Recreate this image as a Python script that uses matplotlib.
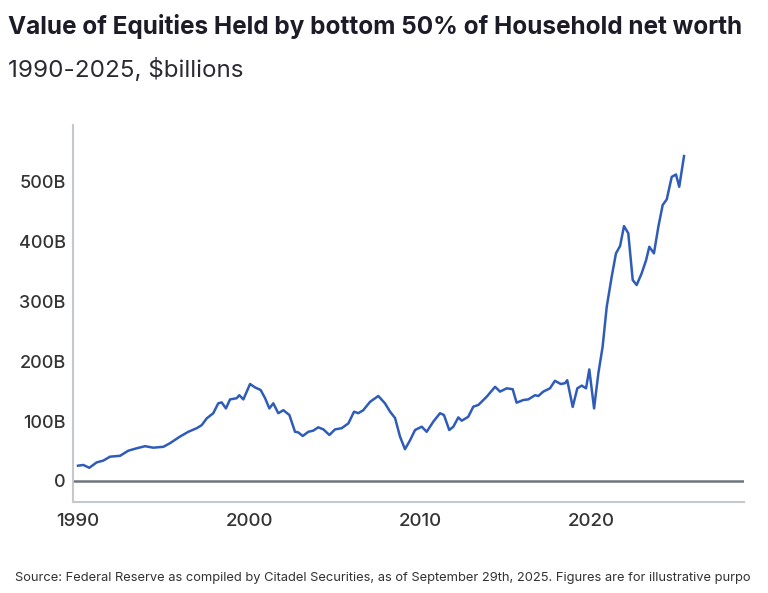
import matplotlib
matplotlib.use("Agg")
import matplotlib.pyplot as plt
from matplotlib.ticker import FuncFormatter

plt.rcParams['font.family'] = ['Inter', 'DejaVu Sans']

years = [1990.0, 1990.31, 1990.66, 1991.09, 1991.48, 1991.87, 1992.46, 1992.94, 1993.43, 1993.92,
         1994.40, 1994.99, 1995.38, 1995.96, 1996.45, 1996.94, 1997.23, 1997.53, 1997.91, 1998.20,
         1998.40, 1998.65, 1998.89, 1999.28, 1999.43, 1999.67, 2000.06, 2000.35, 2000.68, 2000.94,
         2001.19, 2001.42, 2001.71, 2002.01, 2002.36, 2002.69, 2002.88, 2003.14, 2003.47, 2003.76,
         2004.05, 2004.35, 2004.70, 2005.03, 2005.42, 2005.81, 2006.14, 2006.39, 2006.68, 2007.08,
         2007.56, 2007.95, 2008.25, 2008.54, 2008.83, 2009.12, 2009.42, 2009.71, 2010.10, 2010.39,
         2010.78, 2011.17, 2011.40, 2011.71, 2011.95, 2012.24, 2012.44, 2012.82, 2013.12, 2013.41,
         2013.90, 2014.39, 2014.68, 2015.07, 2015.42, 2015.65, 2016.04, 2016.33, 2016.73, 2016.92,
         2017.21, 2017.60, 2017.89, 2018.23, 2018.48, 2018.61, 2018.93, 2019.20, 2019.46, 2019.71,
         2019.90, 2020.18, 2020.43, 2020.68, 2020.92, 2021.21, 2021.46, 2021.70, 2021.93, 2022.18,
         2022.44, 2022.67, 2022.96, 2023.22, 2023.41, 2023.68, 2023.94, 2024.19, 2024.43, 2024.72,
         2024.97, 2025.16, 2025.44]
values = [25.5, 26.7, 22, 31, 34, 40.5, 42, 50.5, 54.5, 58,
          55.5, 57, 63, 74, 82, 88, 93, 104.5, 113, 129.5,
          131, 121, 136, 138, 143, 136, 161.7, 156, 151.7, 138,
          121, 129.5, 113, 118, 110, 82, 81, 75, 82, 84,
          89.5, 86, 76.7, 86, 88, 96, 115.5, 113, 118, 132,
          141.7, 129.5, 115.5, 105, 74, 53, 68, 85, 90.5, 82,
          99, 113, 110, 85, 90.5, 106, 100.5, 107, 124, 126.7,
          140.5, 157, 149, 154.5, 153, 130.5, 135, 136, 143, 141.7,
          149, 154.5, 167, 161.7, 163, 168, 123.5, 154.5, 159, 154.5,
          186, 121, 179.5, 224, 290.5, 340.5, 379.5, 391.7, 425, 413,
          335, 326.7, 346, 368, 390.5, 379.5, 424, 460, 469.5, 507,
          511, 490.5, 541.7]

x_ticks = [1990, 2000, 2010, 2020]
y_ticks = [0, 100, 200, 300, 400, 500]

title = "Value of Equities Held by bottom 50% of Household net worth"
subtitle = "1990-2025, $billions"
source = ("Source: Federal Reserve as compiled by Citadel Securities, as of September 29th, 2025. "
          "Figures are for illustrative purpo")

fig = plt.figure(figsize=(7.68, 5.93), dpi=100)
ax = fig.add_axes([0.0947, 0.1535, 0.8741, 0.6355])

ax.axhline(0, color='#6f757d', lw=1.8, zorder=2)
ax.plot(years, values, color='#2f5cb8', lw=1.8, zorder=3)

ax.set_xlim(1989.69, 2028.95)
ax.set_ylim(-35, 593.3)
ax.set_xticks(x_ticks)
ax.set_yticks(y_ticks)
ax.yaxis.set_major_formatter(FuncFormatter(lambda v, p: "0" if v == 0 else f"{int(v)}B"))

for s in ['top', 'right']:
    ax.spines[s].set_visible(False)
ax.spines['left'].set_color('#c5c9ce')
ax.spines['bottom'].set_color('#c5c9ce')
ax.spines['left'].set_linewidth(1.5)
ax.spines['bottom'].set_linewidth(1.5)

ax.tick_params(axis='both', length=0)
ax.tick_params(axis='y', pad=5, labelsize=13, labelcolor='#333333')
ax.tick_params(axis='x', pad=8, labelsize=13.5, labelcolor='#333333')
for lab in ax.get_xticklabels() + ax.get_yticklabels():
    lab.set_fontweight('medium')

fig.text(0.010, 0.955, title, fontsize=17.5, fontweight='bold', color='#1c1c28', va='center', ha='left')
fig.text(0.010, 0.882, subtitle, fontsize=17.4, color='#2a2a33', va='center', ha='left')
fig.text(0.019, 0.025, source, fontsize=9.3, color='#333333', va='center', ha='left')

fig.savefig("out.png", dpi=100)
